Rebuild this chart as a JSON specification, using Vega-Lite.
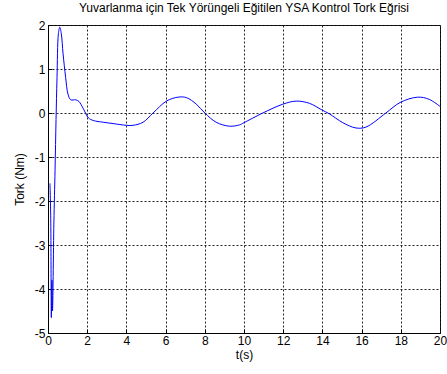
{
  "$schema": "https://vega.github.io/schema/vega-lite/v6.json",
  "width": 392,
  "height": 308,
  "autosize": "none",
  "padding": {"left": 48, "top": 25, "right": 7, "bottom": 41},
  "background": "white",
  "title": {"text": "Yuvarlanma için Tek Yörüngeli Eğitilen YSA Kontrol Tork Eğrisi", "font": "Liberation Sans", "fontSize": 12, "fontWeight": "normal", "color": "#000", "offset": 4, "anchor": "middle"},
  "config": {
    "view": {"stroke": "#000", "strokeWidth": 1},
    "axis": {
      "labelFont": "Liberation Sans", "labelFontSize": 12, "labelColor": "#000", "labelFlush": false,
      "titleFont": "Liberation Sans", "titleFontSize": 12, "titleFontWeight": "normal", "titleColor": "#000",
      "domainColor": "#000", "tickColor": "#000", "tickSize": -4,
      "gridColor": "#222", "gridDash": [2, 2], "gridWidth": 1, "gridOpacity": 1
    }
  },
  "data": {"values": [
    {"t": 0.10, "v": -1.6}, {"t": 0.14, "v": -2.4}, {"t": 0.17, "v": -4.65}, {"t": 0.20, "v": -3.8},
    {"t": 0.23, "v": -4.5}, {"t": 0.30, "v": -2.5}, {"t": 0.36, "v": -1.3}, {"t": 0.41, "v": -0.15},
    {"t": 0.46, "v": 0.8}, {"t": 0.53, "v": 1.8}, {"t": 0.60, "v": 1.95}, {"t": 0.68, "v": 1.8},
    {"t": 0.77, "v": 1.34}, {"t": 0.90, "v": 0.81}, {"t": 1.02, "v": 0.43}, {"t": 1.16, "v": 0.30},
    {"t": 1.41, "v": 0.30}, {"t": 1.58, "v": 0.26}, {"t": 1.80, "v": 0.1}, {"t": 2.06, "v": -0.11},
    {"t": 2.31, "v": -0.17}, {"t": 2.82, "v": -0.21}, {"t": 3.32, "v": -0.24}, {"t": 4.0, "v": -0.28},
    {"t": 4.34, "v": -0.28}, {"t": 4.85, "v": -0.21}, {"t": 5.36, "v": 0.0}, {"t": 6.04, "v": 0.27},
    {"t": 6.63, "v": 0.36}, {"t": 7.06, "v": 0.35}, {"t": 7.57, "v": 0.2}, {"t": 8.0, "v": 0.0},
    {"t": 8.58, "v": -0.21}, {"t": 9.26, "v": -0.30}, {"t": 9.77, "v": -0.27}, {"t": 10.0, "v": -0.22},
    {"t": 10.96, "v": 0.0}, {"t": 11.98, "v": 0.2}, {"t": 12.66, "v": 0.27}, {"t": 13.34, "v": 0.22},
    {"t": 13.97, "v": 0.07}, {"t": 14.36, "v": -0.02}, {"t": 15.04, "v": -0.22}, {"t": 15.71, "v": -0.34},
    {"t": 16.22, "v": -0.32}, {"t": 17.24, "v": 0.0}, {"t": 17.97, "v": 0.24}, {"t": 18.86, "v": 0.36},
    {"t": 19.45, "v": 0.31}, {"t": 20.0, "v": 0.15}
  ]},
  "layer": [
    {
      "mark": {"type": "line", "color": "#0000ff", "strokeWidth": 1, "interpolate": "catmull-rom", "clip": true},
      "encoding": {
        "x": {"field": "t", "type": "quantitative", "scale": {"domain": [0, 20], "nice": false},
              "axis": {"title": "t(s)", "values": [0,2,4,6,8,10,12,14,16,18,20], "labelPadding": 6, "titlePadding": 3, "grid": true, "labelExpr": "'' + datum.value"}},
        "y": {"field": "v", "type": "quantitative", "scale": {"domain": [-5, 2], "nice": false},
              "axis": {"title": "Tork (Nm)", "values": [-5,-4,-3,-2,-1,0,1,2], "labelPadding": 7, "titlePadding": 8, "grid": true, "labelExpr": "'' + datum.value"}}
      }
    }
  ]
}
